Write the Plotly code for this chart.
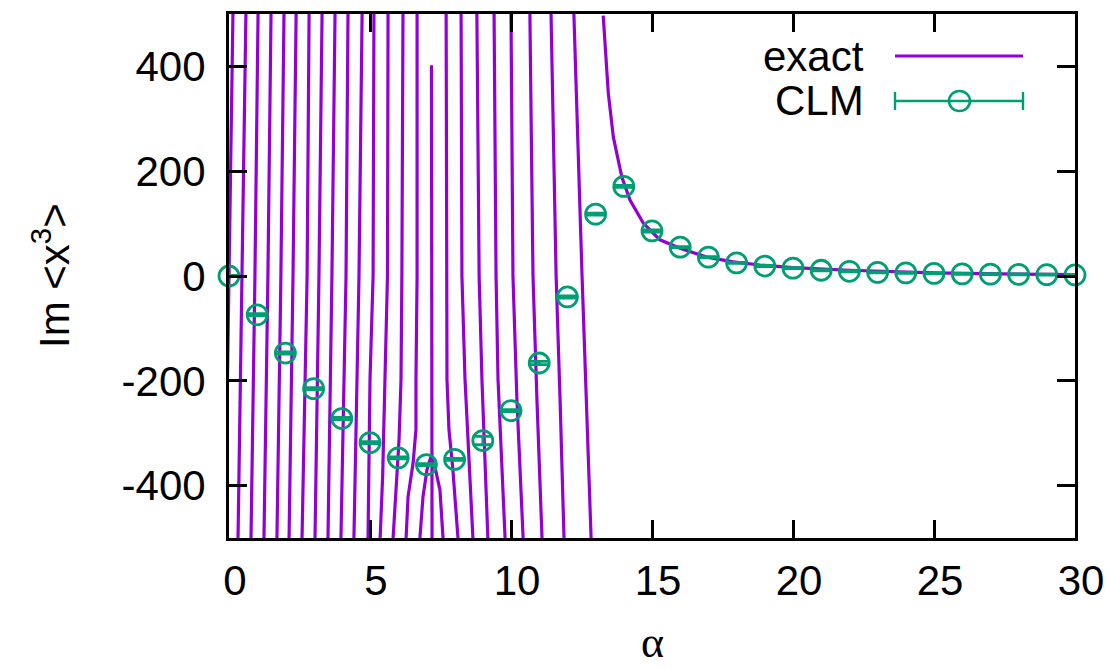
import plotly.graph_objects as go

# ---------------- data ----------------
# CLM (complex Langevin) points
clm_alpha = list(range(0, 31))
clm_value = [0, -74, -147, -215, -272, -318, -347, -360, -350, -314,
             -257, -166, -40, 118, 171, 86, 55, 36, 25, 19,
             15, 11, 9, 7, 6, 5, 4, 3.5, 3, 2.5, 2]
clm_error = [1, 2, 2, 2, 2, 2, 2, 2, 2, 8,
             2, 3, 2, 2, 2, 2, 1, 1, 1, 1,
             1, 1, 1, 1, 1, 1, 1, 1, 1, 1, 1]

# exact result: branches between poles (alpha, value)
branch_alpha = [
    [-0.14, 0.00, 0.14],
    [0.32, 0.46, 0.60],
    [0.78, 0.92, 1.03],
    [1.24, 1.38, 1.49],
    [1.70, 1.84, 1.95],
    [2.13, 2.27, 2.38],
    [2.59, 2.77, 2.84],
    [3.05, 3.19, 3.30],
    [3.51, 3.65, 3.76],
    [3.97, 4.15, 4.22],
    [4.43, 4.61, 4.72],
    [4.93, 5.00, 5.11, 5.14],
    [5.36, 5.45, 5.53, 5.62, 5.64],
    [5.82, 5.92, 6.03, 6.10, 6.13, 6.17],
    [6.28, 6.35, 6.53, 6.63, 6.63, 6.67, 6.67],
    [6.77, 6.88, 7.02, 7.16, 7.30, 7.48, 7.59],
    [7.18, 7.20],
    [7.70, 7.73, 7.73, 7.80, 7.94, 8.12],
    [8.23, 8.26, 8.37, 8.50, 8.65],
    [8.79, 8.87, 8.97, 9.18],
    [9.40, 9.47, 9.54, 9.79],
    [10.00, 10.07, 10.21, 10.43],
    [10.67, 10.78, 10.92, 11.10],
    [11.42, 11.60, 11.74, 11.88],
    [12.23, 12.37, 12.52, 12.84],
    [13.27, 13.33, 13.45, 13.63, 13.93, 14.22, 14.69, 15.28, 15.99,
     16.94, 17.88, 18.83, 20.0, 22.0, 25.0, 28.0, 30.0],
]
branch_value = [
    [-500, 0, 500],
    [-500, 0, 500],
    [-500, 0, 500],
    [-500, 0, 500],
    [-500, 0, 500],
    [-500, 0, 500],
    [-500, 0, 500],
    [-500, 0, 500],
    [-500, 0, 500],
    [-500, 0, 500],
    [-500, 0, 500],
    [-500, -198, 0, 500],
    [-500, -380, -198, 0, 500],
    [-500, -408, -312, -198, 0, 500],
    [-500, -421, -356, -293, -198, 0, 500],
    [-500, -421, -370, -345, -364, -408, -500],
    [402, -500],
    [500, 0, -198, -293, -370, -500],
    [500, 0, -198, -330, -500],
    [500, 0, -198, -500],
    [500, 0, -198, -500],
    [500, 0, -236, -500],
    [500, 0, -236, -500],
    [500, 0, -236, -500],
    [500, 253, 0, -500],
    [497, 444, 349, 265, 189, 145, 101, 69, 53,
     36, 27, 21, 16, 11, 6, 3.5, 2.5],
]

x_ticks = [0, 5, 10, 15, 20, 25, 30]
x_tick_text = ["0", "5", "10", "15", "20", "25", "30"]
y_ticks = [-400, -200, 0, 200, 400]
y_tick_text = ["-400", "-200", "0", "200", "400"]
legend_labels = ["exact", "CLM"]

PURPLE = "#9400d3"
GREEN = "#009e73"
FONT = "Liberation Sans"

# ---------------- figure ----------------
ex_x, ex_y = [], []
for a, v in zip(branch_alpha, branch_value):
    ex_x += a + [None]
    ex_y += v + [None]

fig = go.Figure()
fig.add_trace(go.Scatter(
    x=ex_x, y=ex_y, mode="lines", connectgaps=False,
    line=dict(color=PURPLE, width=3.2), showlegend=False, hoverinfo="skip"))
fig.add_trace(go.Scatter(
    x=clm_alpha, y=clm_value, mode="markers",
    marker=dict(symbol="circle-open", size=20, color=GREEN,
                line=dict(width=2.8, color=GREEN)),
    error_y=dict(type="data", array=clm_error, visible=True,
                 color=GREEN, thickness=2.8, width=10),
    cliponaxis=False, showlegend=False))

axis_common = dict(showline=True, linecolor="black", linewidth=3, mirror="ticks",
                   ticks="inside", ticklen=18, tickwidth=2.5, tickcolor="black",
                   showgrid=False, zeroline=False, automargin=False,
                   tickfont=dict(family=FONT, size=42, color="black"))

fig.update_layout(
    width=1110, height=670,
    margin=dict(l=229, r=35, t=14, b=132),
    paper_bgcolor="white", plot_bgcolor="white",
    showlegend=False,
    xaxis=dict(range=[0, 30], tickvals=x_ticks, ticktext=x_tick_text,
               ticklabelstandoff=4, ticklabelshift=6, **axis_common),
    yaxis=dict(range=[-500, 500], tickvals=y_ticks, ticktext=y_tick_text,
               ticklabelstandoff=12, **axis_common),
)

# axis titles
fig.add_annotation(xref="paper", yref="paper", x=0, y=0.5, xshift=-178,
                   text="Im &lt;x<sup>3</sup>&gt;", textangle=-90, showarrow=False,
                   font=dict(family=FONT, size=42, color="black"),
                   xanchor="center", yanchor="middle")
fig.add_annotation(xref="paper", yref="paper", x=0.5, y=0, yshift=-104,
                   text="α", showarrow=False,
                   font=dict(family="Liberation Serif", size=44, color="black"),
                   xanchor="center", yanchor="middle")

# custom legend (gnuplot style, top right)
pw, ph = 1110 - 229 - 35, 670 - 14 - 132
def px(x):
    return (x - 229) / pw
def py(y):
    return 1 - (y - 14) / ph

fig.add_annotation(xref="paper", yref="paper", x=px(866), y=py(57), text=legend_labels[0],
                   showarrow=False, xanchor="right", yanchor="middle",
                   font=dict(family=FONT, size=42, color="black"))
fig.add_annotation(xref="paper", yref="paper", x=px(866), y=py(101), text=legend_labels[1],
                   showarrow=False, xanchor="right", yanchor="middle",
                   font=dict(family=FONT, size=42, color="black"))
fig.add_shape(type="line", xref="paper", yref="paper", x0=px(895), x1=px(1023),
              y0=py(56), y1=py(56), line=dict(color=PURPLE, width=3.2))
fig.add_shape(type="line", xref="paper", yref="paper", x0=px(895), x1=px(1023),
              y0=py(101), y1=py(101), line=dict(color=GREEN, width=2.4))
for cx in (895, 1023):
    fig.add_shape(type="line", xref="paper", yref="paper", x0=px(cx), x1=px(cx),
                  y0=py(92), y1=py(110), line=dict(color=GREEN, width=2.4))
fig.add_shape(type="circle", xref="paper", yref="paper",
              x0=px(949), x1=px(970), y0=py(91), y1=py(111),
              line=dict(color=GREEN, width=2.6), fillcolor="rgba(0,0,0,0)")

fig.write_html("out.html")
